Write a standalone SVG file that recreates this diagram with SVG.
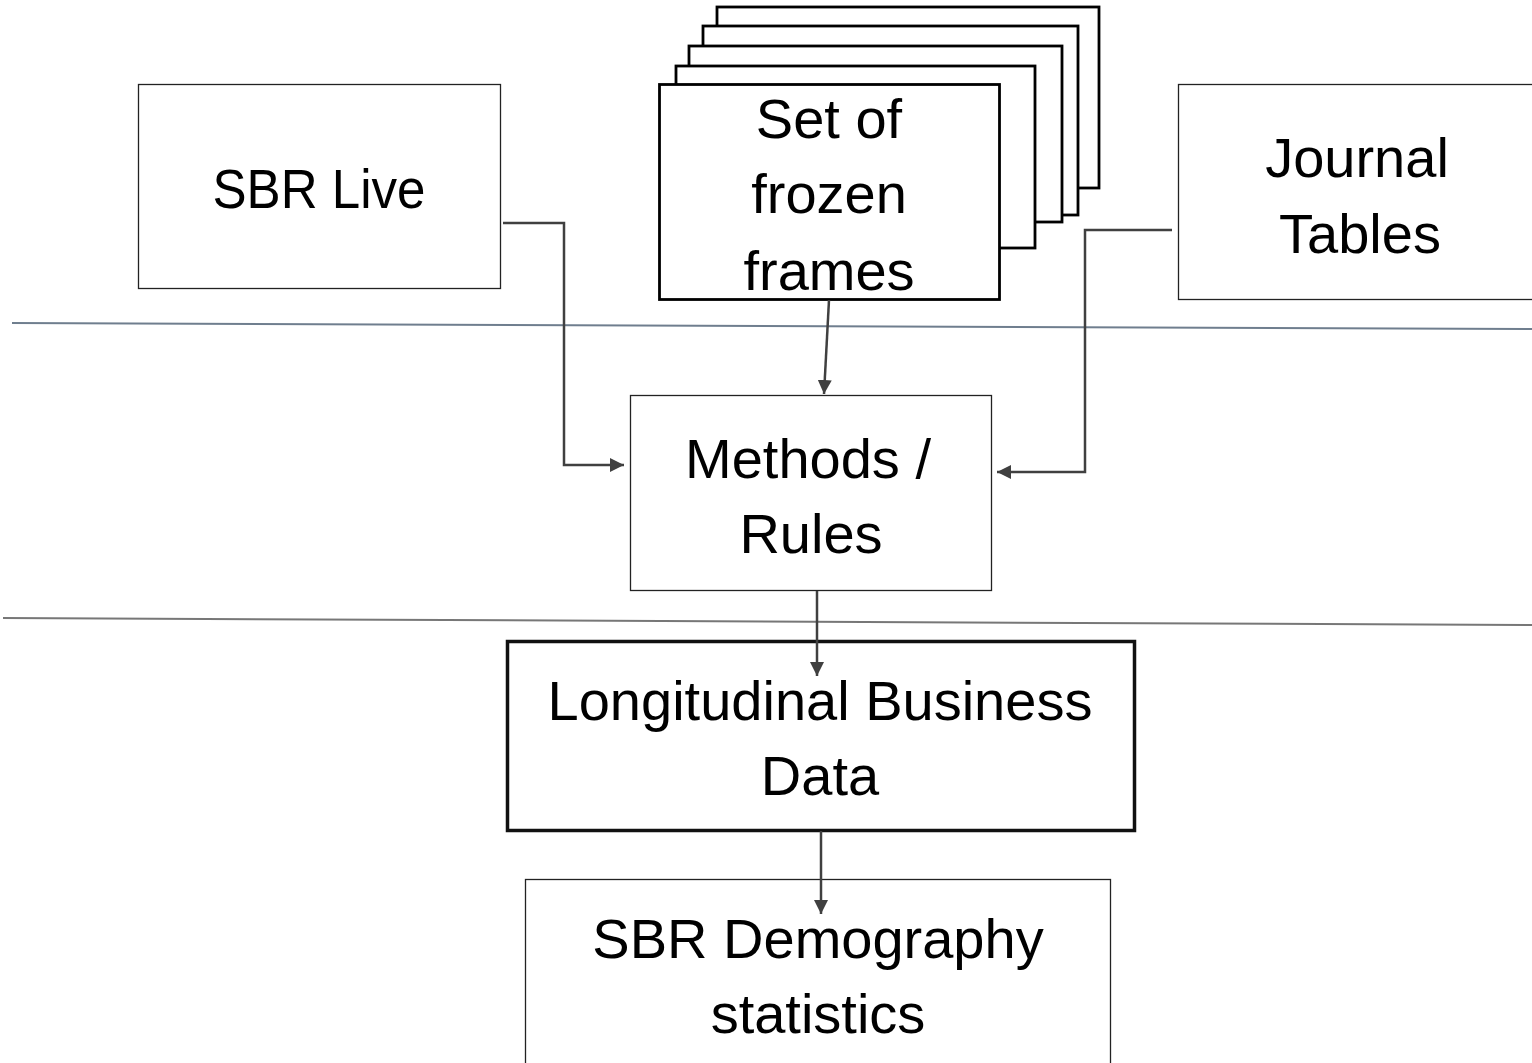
<svg xmlns="http://www.w3.org/2000/svg" width="1532" height="1063" viewBox="0 0 1532 1063">
<defs>
<style>
.box{fill:#fff;stroke:#222;stroke-width:1.3}
.frame{fill:#fff;stroke:#000;stroke-width:2.8}
.thick{fill:#fff;stroke:#111;stroke-width:3.5}
.t{font-family:"Liberation Sans",Arial,sans-serif;font-size:56px;fill:#000;text-anchor:middle}
.conn{fill:none;stroke:#404040;stroke-width:2.5}
.sep1{stroke:#6f7e8e;stroke-width:2;fill:none}
.sep2{stroke:#777;stroke-width:2;fill:none}
</style>
<marker id="arr" viewBox="0 0 10 10" refX="10" refY="5" markerWidth="14" markerHeight="14" markerUnits="userSpaceOnUse" orient="auto">
<path d="M0,0 L10,5 L0,10 z" fill="#404040"/>
</marker>
</defs>
<rect width="1532" height="1063" fill="#fff"/>
<g id="separators">
<line class="sep1" x1="12" y1="323" x2="1532" y2="329"/>
<line class="sep2" x1="3" y1="618" x2="1532" y2="625"/>
</g>
<g id="sbr-live">
<rect class="box" x="138.5" y="84.5" width="362" height="204"/>
<text class="t" x="319" y="208" textLength="213" lengthAdjust="spacingAndGlyphs">SBR Live</text>
</g>
<g id="frozen-frames">
<rect class="frame" x="717" y="7" width="382" height="181"/>
<rect class="frame" x="703" y="26" width="375" height="189"/>
<rect class="frame" x="689" y="46" width="373" height="176"/>
<rect class="frame" x="676" y="66" width="359" height="182"/>
<rect class="frame" x="659.5" y="84.5" width="340" height="215"/>
<text class="t" x="829" y="138">Set of</text>
<text class="t" x="829" y="213">frozen</text>
<text class="t" x="829" y="290">frames</text>
</g>
<g id="journal-tables">
<rect class="box" x="1178.5" y="84.5" width="360" height="215"/>
<text class="t" x="1357" y="177">Journal</text>
<text class="t" x="1360" y="253">Tables</text>
</g>
<g id="methods-rules">
<rect class="box" x="630.5" y="395.5" width="361" height="195"/>
<text class="t" x="808" y="478">Methods /</text>
<text class="t" x="811" y="553">Rules</text>
</g>
<g id="longitudinal">
<rect class="thick" x="507.5" y="641.5" width="627" height="189"/>
<text class="t" x="820" y="720">Longitudinal Business</text>
<text class="t" x="820" y="795">Data</text>
</g>
<g id="demography">
<rect class="box" x="525.5" y="879.5" width="585" height="200"/>
<text class="t" x="818" y="958">SBR Demography</text>
<text class="t" x="818" y="1033">statistics</text>
</g>
<g id="connectors">
<path class="conn" d="M503,223 H564 V465 H624" marker-end="url(#arr)"/>
<path class="conn" d="M1172,230 H1085 V472 H997" marker-end="url(#arr)"/>
<path class="conn" d="M829,300 L824,394" marker-end="url(#arr)"/>
<path class="conn" d="M817,591 V676" marker-end="url(#arr)"/>
<path class="conn" d="M821,831 V914" marker-end="url(#arr)"/>
</g>
</svg>
